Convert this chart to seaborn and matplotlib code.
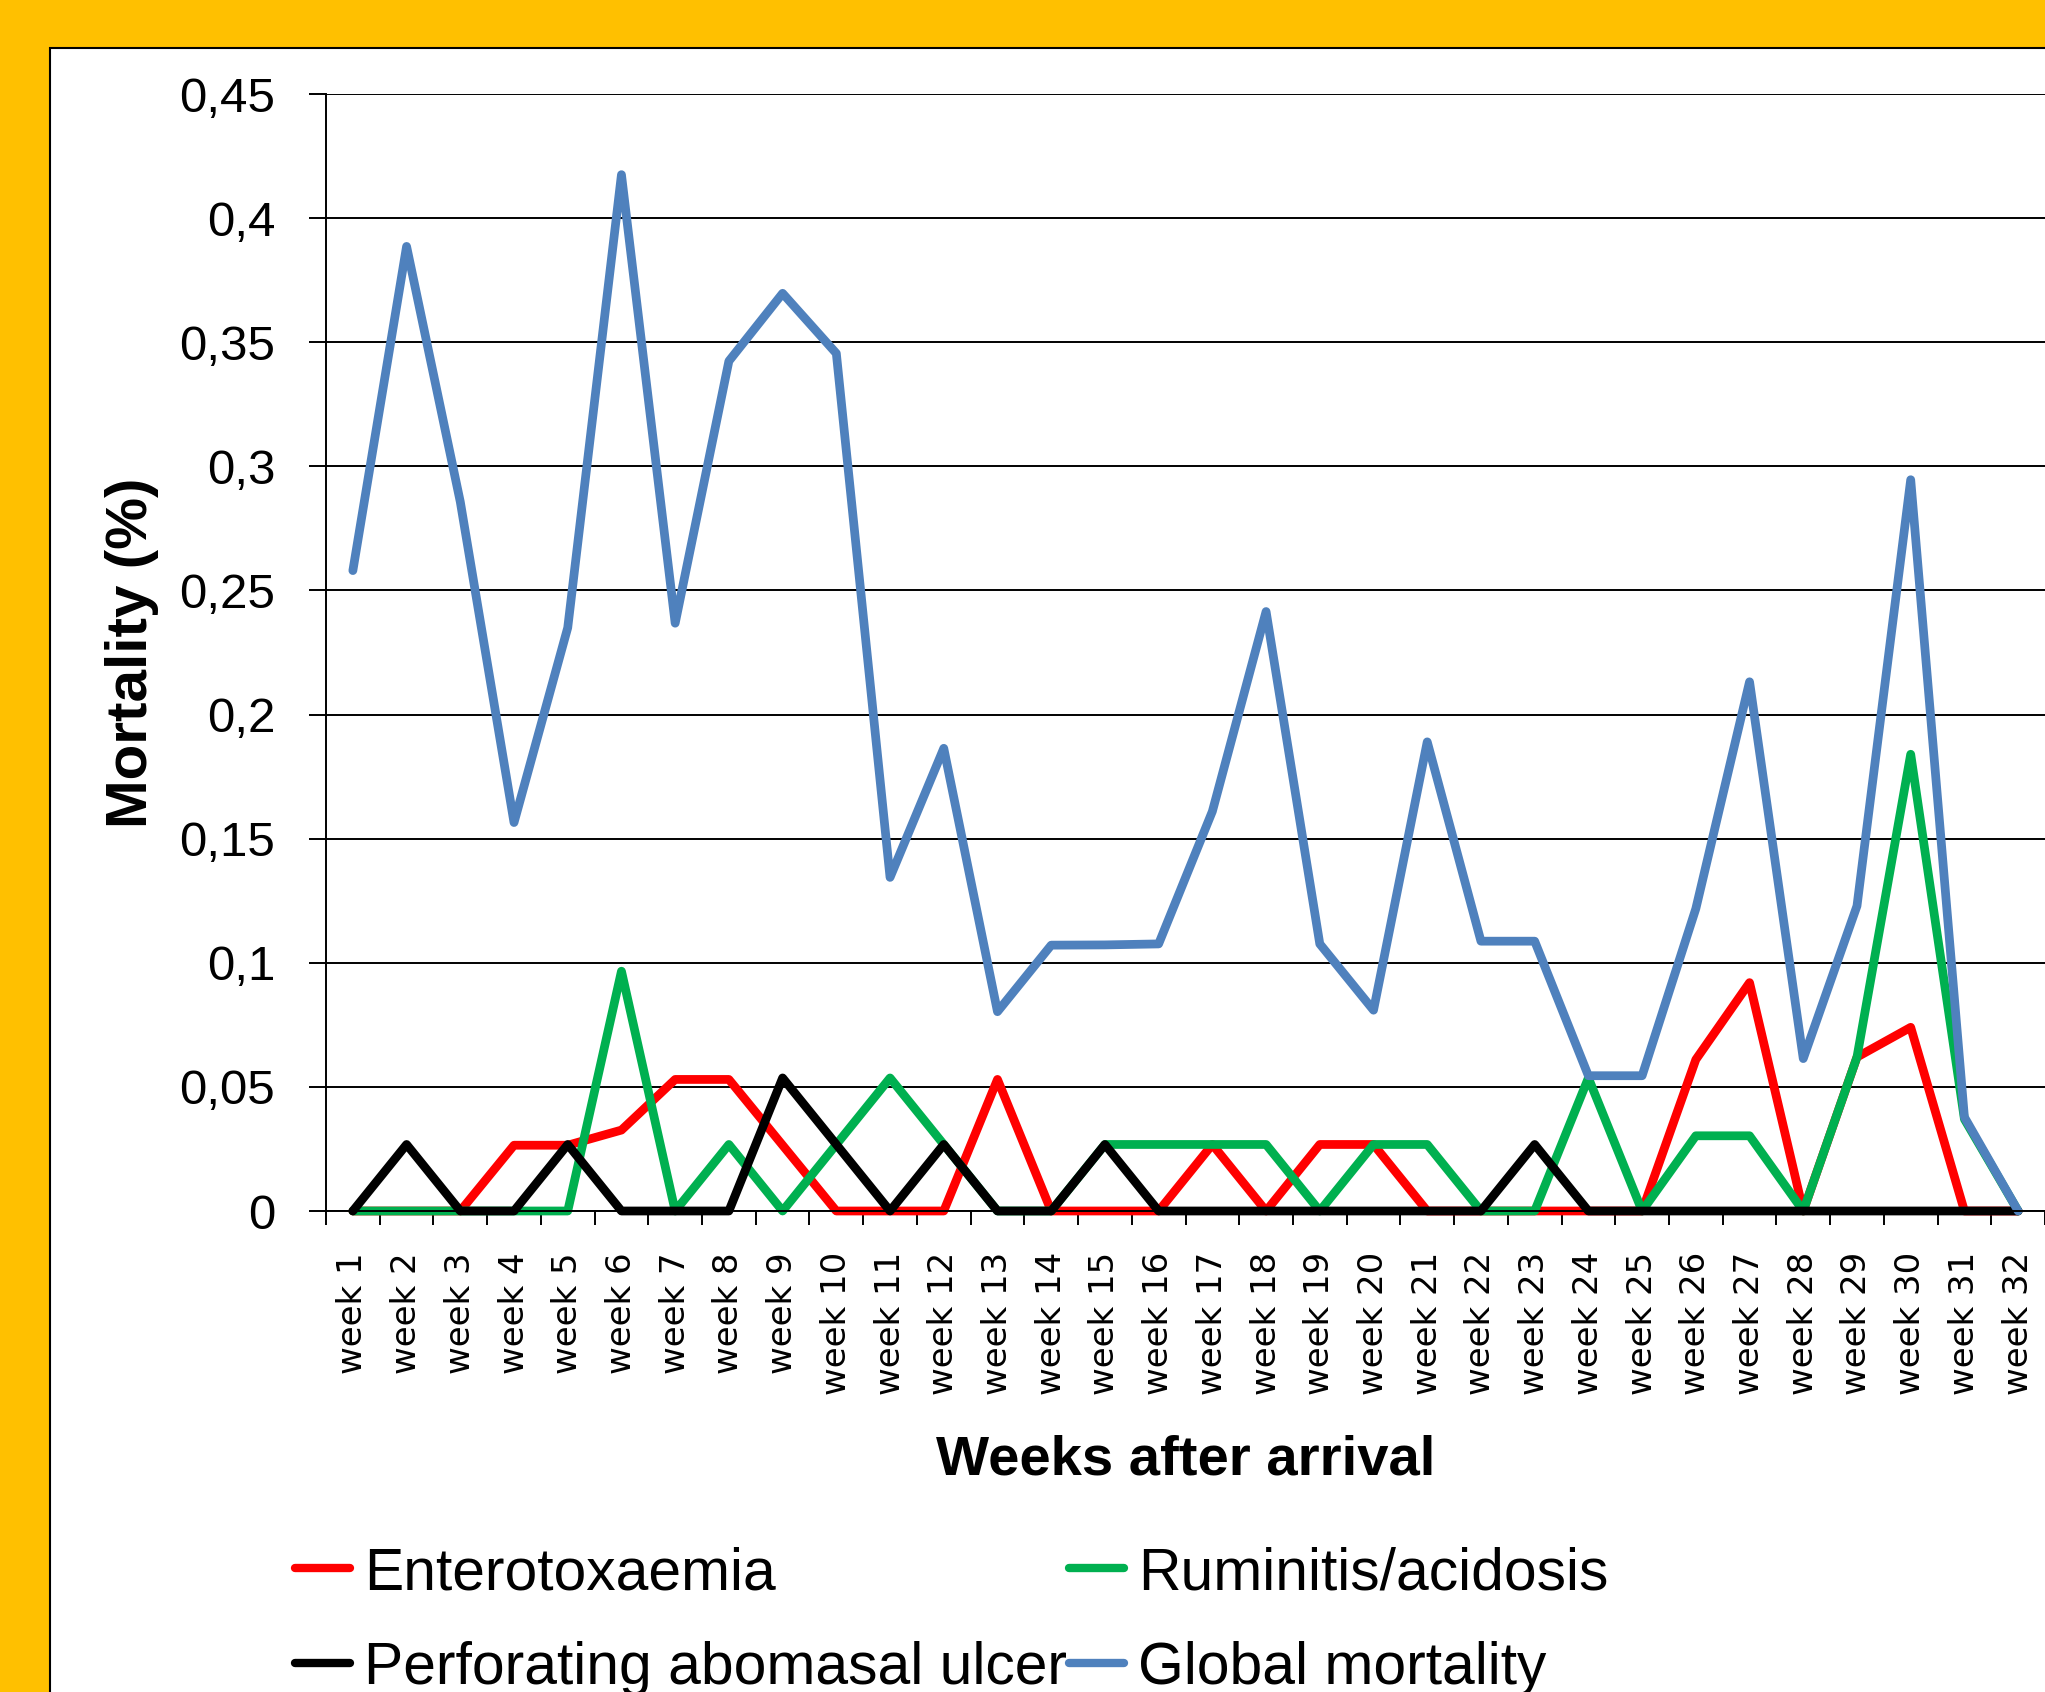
import numpy as np
import pandas as pd
import matplotlib
matplotlib.use("Agg")
import matplotlib.pyplot as plt
import seaborn as sns
from matplotlib import font_manager
from matplotlib.patches import Rectangle
from matplotlib.ticker import FixedLocator

# ---------------- data ----------------
weeks = [f"week {i}" for i in range(1, 33)]
enterotoxaemia = [0, 0, 0, 0.0265, 0.0265, 0.0326, 0.053, 0.053, 0.0265, 0, 0, 0,
                  0.053, 0, 0, 0, 0.0268, 0, 0.0268, 0.0268, 0, 0, 0, 0,
                  0, 0.061, 0.092, 0, 0.062, 0.074, 0, 0]
ruminitis = [0, 0, 0, 0, 0, 0.0966, 0, 0.0268, 0, 0.0268, 0.0536, 0.0268,
             0, 0, 0.0268, 0.0268, 0.0268, 0.0268, 0, 0.0268, 0.0268, 0, 0, 0.0536,
             0, 0.0303, 0.0303, 0, 0.062, 0.184, 0.037, 0]
ulcer = [0, 0.0268, 0, 0, 0.0268, 0, 0, 0, 0.0536, 0.0268, 0, 0.0268,
         0, 0, 0.0268, 0, 0, 0, 0, 0, 0, 0, 0.0268, 0,
         0, 0, 0, 0, 0, 0, 0, 0]
global_mortality = [0.258, 0.3886, 0.2857, 0.1565, 0.235, 0.4175, 0.2368, 0.3424,
                    0.3697, 0.3455, 0.1344, 0.1864, 0.0803, 0.1071, 0.1072, 0.1076,
                    0.161, 0.2415, 0.1076, 0.0809, 0.189, 0.1087, 0.1087, 0.0545,
                    0.0545, 0.1218, 0.2132, 0.0614, 0.1229, 0.2946, 0.0378, 0]
series_names = ["Enterotoxaemia", "Ruminitis/acidosis",
                "Perforating abomasal ulcer", "Global mortality"]
series_colors = ["#FF0000", "#00B050", "#000000", "#4F81BD"]
yticks = [0, 0.05, 0.1, 0.15, 0.2, 0.25, 0.3, 0.35, 0.4, 0.45]
ytick_labels = ["0", "0,05", "0,1", "0,15", "0,2", "0,25", "0,3", "0,35", "0,4", "0,45"]

df = pd.DataFrame({"idx": np.arange(len(weeks)), "week": weeks,
                   series_names[0]: enterotoxaemia,
                   series_names[1]: ruminitis,
                   series_names[2]: ulcer,
                   series_names[3]: global_mortality})

# ---------------- style ----------------
sns.set_style("white")
names = {f.name for f in font_manager.fontManager.ttflist}
if "Liberation Sans Narrow" in names:
    main_font = "Liberation Sans Narrow"
    k = 1.19
else:
    main_font = "Liberation Sans"
    k = 1.0
plt.rcParams["font.family"] = [main_font, "DejaVu Sans"]
for key in ["text.color", "axes.labelcolor", "xtick.color", "ytick.color"]:
    plt.rcParams[key] = "black"

W, H = 2045, 1692
fig = plt.figure(figsize=(W / 100, H / 100), dpi=100, facecolor="#FFC000")
panel = Rectangle((50 / W, -0.05), 1.1, 1 - 48 / H + 0.05,
                  transform=fig.transFigure, facecolor="white",
                  edgecolor="black", lw=1.5, zorder=-10)
fig.patches.append(panel)

ax = fig.add_axes([326 / W, 1 - 1211 / H, 1 - 326 / W, (1211 - 94) / H])
ax.set_zorder(1)
ax.set_facecolor("white")

LW = 6.3
for name, color in zip(series_names, series_colors):
    sns.lineplot(data=df, x="idx", y=name, color=color, lw=LW, ax=ax,
                 label=name, clip_on=False, solid_joinstyle="round",
                 solid_capstyle="round")

ax.set_xlim(-0.5, len(weeks) - 0.5)
ax.set_ylim(0, 0.45)

# y axis
ax.set_yticks(yticks)
ax.set_yticklabels(ytick_labels, fontsize=35.5 * k, family=main_font)
ax.tick_params(axis="y", direction="out", length=12, width=1.4, pad=24.5,
               colors="black", left=True)
ax.yaxis.grid(True, color="black", lw=1.4)
ax.xaxis.grid(False)
ax.set_axisbelow(True)

# x axis: labels at categories, ticks at boundaries
ax.set_xticks(np.arange(len(weeks)))
ax.set_xticklabels(weeks, rotation=90, fontsize=24.5, family="DejaVu Sans")
ax.tick_params(axis="x", which="major", length=0, pad=29.5)
ax.xaxis.set_minor_locator(FixedLocator(np.arange(-0.5, len(weeks), 1.0)))
ax.tick_params(axis="x", which="minor", direction="out", length=10, width=1.4,
               color="black", bottom=True)

for s in ["top", "right"]:
    ax.spines[s].set_visible(False)
for s in ["left", "bottom"]:
    ax.spines[s].set_color("black")
    ax.spines[s].set_linewidth(1.4)

ax.set_xlabel("Weeks after arrival", fontsize=40.5 * k, fontweight="bold", va="center")
ax.xaxis.set_label_coords(0.5, (1211 - 1460) / (1211 - 94))
ax.set_ylabel("Mortality (%)", fontsize=42 * k, fontweight="bold", va="center",
              ha="center")
ax.yaxis.set_label_coords((132 - 326) / (2046 - 326), 0.5)

# legend
fs = 42.3 * k
fs_px = fs * 100 / 72
tmp = fig.text(0, 0, "Perforating abomasal ulcer", fontsize=fs)
fig.canvas.draw()
wtxt = tmp.get_window_extent().width
tmp.remove()
handles, labels = ax.get_legend_handles_labels()
order = [0, 2, 1, 3]
colspace = max((1069 - 364 - wtxt) / fs_px, 0.0)
leg = ax.legend([handles[i] for i in order], [labels[i] for i in order],
                ncol=2, loc="upper left", bbox_to_anchor=(295 / W, 1 - 1546 / H),
                bbox_transform=fig.transFigure, frameon=False, fontsize=fs,
                borderpad=0, borderaxespad=0, handlelength=55 / fs_px,
                handletextpad=14 / fs_px, columnspacing=colspace,
                labelspacing=0.68)
for line in leg.get_lines():
    line.set_linewidth(6.0)

fig.savefig("out.png", dpi=100, facecolor=fig.get_facecolor())
